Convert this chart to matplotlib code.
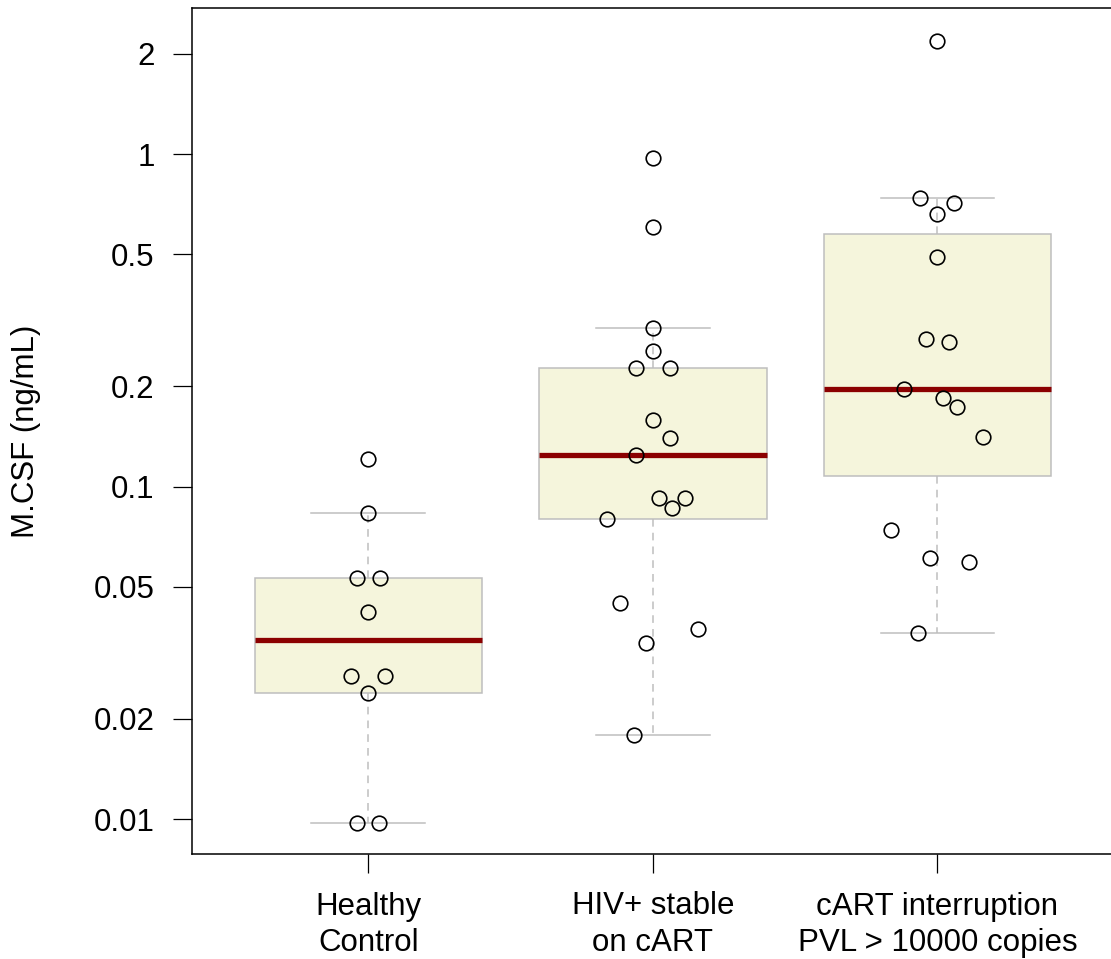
import numpy as np
import matplotlib.pyplot as plt
from matplotlib.ticker import NullLocator

plt.rcParams['font.family'] = ['Liberation Sans', 'DejaVu Sans']

# group labels on the x axis
groups = ['Healthy\nControl', 'HIV+ stable\non cART', 'cART interruption\nPVL > 10000 copies']

# M.CSF values (ng/mL), with the horizontal jitter of each point
healthy = [0.121, 0.083, 0.053, 0.053, 0.042, 0.027, 0.027, 0.024, 0.0097, 0.0097]
healthy_jitter = [0, 0, -0.040, 0.041, 0, -0.060, 0.060, 0, -0.040, 0.039]

stable = [0.971, 0.602, 0.299, 0.256, 0.227, 0.227, 0.159, 0.140, 0.124,
          0.0925, 0.0925, 0.086, 0.080, 0.0447, 0.0372, 0.0338, 0.0179]
stable_jitter = [0, 0, 0, 0, -0.059, 0.059, 0, 0.059, -0.061,
                 0.021, 0.114, 0.068, -0.160, -0.115, 0.159, -0.024, -0.068]

interrupt = [2.19, 0.736, 0.714, 0.660, 0.489, 0.278, 0.273, 0.196, 0.184,
             0.173, 0.141, 0.074, 0.0608, 0.0594, 0.0363]
interrupt_jitter = [0, -0.061, 0.060, 0, 0, -0.041, 0.040, -0.116, 0.021,
                    0.068, 0.160, -0.162, -0.025, 0.112, -0.069]

y_ticks = [0.01, 0.02, 0.05, 0.1, 0.2, 0.5, 1, 2]
y_tick_labels = ['0.01', '0.02', '0.05', '0.1', '0.2', '0.5', '1', '2']


def fivenum(x):
    # Tukey five number summary (same as R's fivenum)
    x = np.sort(np.asarray(x, dtype=float))
    n = len(x)
    n4 = np.floor((n + 3) / 2) / 2
    d = np.array([1, n4, (n + 1) / 2, n + 1 - n4, n]) - 1
    return 0.5 * (x[np.floor(d).astype(int)] + x[np.ceil(d).astype(int)])


def box_stats(x, coef=1.5):
    x = np.asarray(x, dtype=float)
    lo, q1, med, q3, hi = fivenum(x)
    iqr = q3 - q1
    whishi = x[x <= q3 + coef * iqr].max()
    whislo = x[x >= q1 - coef * iqr].min()
    return dict(med=med, q1=q1, q3=q3, whislo=whislo, whishi=whishi, fliers=[])


data = [healthy, stable, interrupt]
jitter = [healthy_jitter, stable_jitter, interrupt_jitter]
positions = [1, 2, 3]

fig = plt.figure(figsize=(11.11, 9.59), dpi=100)
ax = fig.add_axes([192 / 1111, 105 / 959, 921.8 / 1111, 846 / 959])

gray = '#BEBEBE'
ax.bxp([box_stats(d) for d in data], positions=positions, widths=0.8,
       capwidths=0.4, patch_artist=True, showfliers=False,
       boxprops=dict(facecolor='#F5F5DC', edgecolor=gray, linewidth=1.1),
       whiskerprops=dict(color=gray, linestyle=(0, (5, 4)), linewidth=1.1),
       capprops=dict(color=gray, linewidth=1.1),
       medianprops=dict(color='#8B0000', linewidth=3.8, solid_capstyle='butt'))

# overlay the individual points
for pos, vals, jit in zip(positions, data, jitter):
    ax.plot(pos + np.array(jit), vals, 'o', mfc='none', mec='black',
            ms=10.5, mew=1.2, zorder=3)

ax.set_yscale('log')
ax.set_ylim(0.00785, 2.749)
ax.set_xlim(0.38, 3.62)
ax.set_yticks(y_ticks, y_tick_labels)
ax.yaxis.set_minor_locator(NullLocator())
ax.set_xticks(positions, groups)
for lbl in ax.get_xticklabels():
    lbl.set_linespacing(1.3)

ax.tick_params(length=14, width=0.9, labelsize=22.5, color='black')
ax.tick_params(axis='y', pad=13)
ax.tick_params(axis='x', pad=13)
for s in ax.spines.values():
    s.set_linewidth(1.1)
ax.spines['right'].set_visible(False)

ax.set_ylabel('M.CSF (ng/mL)', fontsize=22.5)
ax.yaxis.set_label_coords(-0.164, 0.5)

fig.savefig('out.png', dpi=100)
